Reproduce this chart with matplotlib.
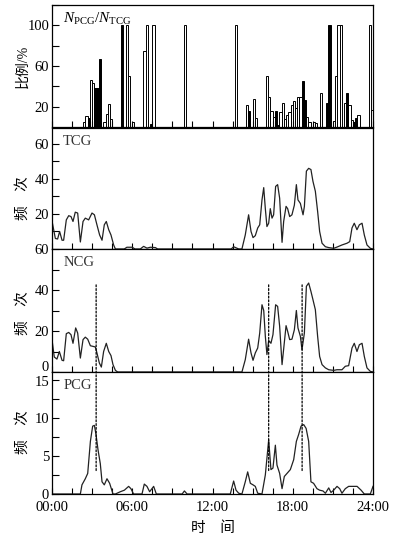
import numpy as np
import matplotlib
matplotlib.use('Agg')
import matplotlib.pyplot as plt
import matplotlib.transforms as mtransforms
from matplotlib.patches import ConnectionPatch

plt.rcParams['font.family'] = ['Liberation Serif', 'Noto Sans CJK SC']
plt.rcParams['mathtext.fontset'] = 'custom'
plt.rcParams['mathtext.rm'] = 'Liberation Serif'
plt.rcParams['mathtext.it'] = 'Liberation Serif:italic'

# ratio N_PCG/N_TCG per 10-min bin (bin index, percent)
open_bins = [14, 15, 17, 18, 23, 24, 25, 26, 33, 34, 36, 41, 42, 45, 59, 82,
             87, 90, 91, 96, 97, 98, 99, 102, 103, 104, 105, 106, 107, 108, 109,
             110, 111, 114, 115, 117, 118, 120, 126, 127, 128, 129, 131, 133,
             134, 137, 142, 143]
open_vals = [5, 11, 46, 43.5, 5, 12.7, 22.5, 8, 100, 50, 5, 75, 100, 100, 100, 100,
             21.5, 28, 8.5, 50, 30, 16, 10, 15, 24, 8, 12, 15, 21.5, 26, 19,
             30, 30, 10, 5, 5, 3.5, 33, 6, 50, 100, 100, 24, 21.5,
             6.5, 12, 100, 17]
fill_bins = [16, 19, 20, 21, 31, 44, 88, 100, 101, 112, 113, 123, 124, 132, 135, 136]
fill_vals = [9, 38.5, 38.5, 67, 100, 3, 16, 16, 2, 45, 27, 24, 100, 33, 4.5, 8.5]

# TCG counts (hours, count)
t_tcg = [0, 0.25, 0.42, 0.57, 0.75, 0.87, 1.07, 1.25, 1.42, 1.57, 1.74, 1.92, 2.12,
         2.32, 2.49, 2.74, 2.99, 3.17, 3.36, 3.56, 3.74, 3.91, 4.06, 4.24, 4.41,
         4.61, 4.74, 5.4, 5.6, 6.0, 6.2, 6.6, 6.85, 7.1, 7.35, 7.73, 7.9, 13.4,
         13.58, 13.96, 14.2, 14.45, 14.7, 14.88, 15.03, 15.2, 15.38, 15.53, 15.7,
         15.83, 15.95, 16.07, 16.2, 16.32, 16.45, 16.57, 16.72, 16.87, 17.02, 17.2,
         17.32, 17.5, 17.62, 17.77, 17.94, 18.12, 18.27, 18.39, 18.57, 18.77,
         18.87, 19.02, 19.19, 19.36, 19.51, 19.69, 19.86, 20.01, 20.19, 20.44,
         20.69, 21.06, 21.31, 21.68, 22.06, 22.26, 22.43, 22.6, 22.8, 22.98,
         23.18, 23.35, 23.55, 23.8, 24]
v_tcg = [16, 6, 5.7, 10, 5, 5, 16.6, 19, 18.5, 15.7, 21, 20.5, 4,
         15.7, 17.6, 16.6, 20.5, 19.5, 13.8, 8, 5, 13.8, 15.7, 11, 8,
         2.3, 0, 0, 1, 1, 0, 0, 1.5, 0.5, 1, 0.8, 0, 0,
         1.3, 0, 0, 8, 19.5, 10, 6.5, 7.6, 12, 13.8, 28,
         35, 23, 12.8, 14.7, 23, 17.6, 19.5, 35.7, 36.7, 29, 3.8,
         15.7, 24.3, 23, 18.5, 19.5, 25, 36.7, 28, 26, 19.5,
         24.3, 44.4, 46, 45.3, 38.6, 32.9, 21.4, 10, 3.3, 1.3,
         0.8, 0.4, 1.1, 2.3, 3.3, 4.2, 12, 14.7, 11, 13.8,
         14.7, 8, 2.3, 0.4, 0]

# NCG counts
t_ncg = [0, 0.17, 0.37, 0.55, 0.75, 0.87, 1.07, 1.25, 1.42, 1.57, 1.77, 1.92, 2.12,
         2.32, 2.49, 2.67, 2.87, 3.07, 3.24, 3.36, 3.54, 3.69, 3.86, 4.06, 4.24,
         4.41, 4.56, 4.74, 4.91, 13.96, 14.2, 14.45, 14.7, 14.88, 15.03, 15.2,
         15.38, 15.53, 15.7, 15.83, 15.95, 16.07, 16.2, 16.37, 16.52, 16.72, 16.87,
         17.02, 17.2, 17.32, 17.5, 17.62, 17.77, 17.94, 18.12, 18.27, 18.39, 18.57,
         18.69, 18.87, 19.02, 19.19, 19.36, 19.51, 19.69, 19.86, 20.01, 20.19,
         20.44, 20.69, 21.06, 21.31, 21.68, 21.93, 22.18, 22.43, 22.6, 22.8, 22.98,
         23.18, 23.35, 23.55, 23.8, 24]
v_ncg = [15.8, 7.3, 6.3, 10, 5.7, 5.5, 18.7, 19.3, 18.2, 14, 21.5, 19, 6.8,
         15.8, 17, 16, 12.8, 12.5, 12.2, 9.3, 4.4, 2.4, 10, 14, 10,
         8, 3.6, 0.8, 0, 0, 0, 6, 16, 9.3, 5.7, 9.3,
         11.7, 19, 32.8, 30, 17.4, 8.5, 15.4, 14, 18.2, 32.8, 32,
         22.3, 3.6, 11.2, 22.6, 19.8, 15.8, 16, 20.6, 30, 21.5, 17.4,
         10.9, 19, 41.8, 43.4, 39.3, 35.3, 30.4, 17.4, 7.6, 3.6,
         2, 1.1, 0.8, 1.1, 1.1, 2.8, 3.1, 11.7, 14, 10, 13.3,
         14, 7.6, 2, 0.3, 0]

# PCG counts
t_pcg = [0, 2.12, 2.24, 2.49, 2.67, 2.87, 3.04, 3.17, 3.29, 3.44, 3.61, 3.74, 3.91,
         4.11, 4.31, 4.56, 4.74, 5.11, 5.41, 5.73, 5.9, 6.1, 6.73, 6.9, 7.1, 7.3,
         7.6, 7.8, 9.73, 9.9, 10.1, 13.33, 13.58, 13.76, 13.96, 14.2, 14.45, 14.63,
         14.83, 15.03, 15.2, 15.38, 15.7, 15.95, 16.2, 16.37, 16.52, 16.7, 16.82,
         17.02, 17.2, 17.37, 17.57, 17.82, 18.07, 18.27, 18.44, 18.62, 18.82, 19.0,
         19.19, 19.36, 19.56, 19.81, 20.01, 20.26, 20.44, 20.69, 20.86, 21.06,
         21.31, 21.51, 21.68, 21.93, 22.18, 22.56, 22.81, 23.11, 23.35, 23.8, 24]
v_pcg = [0, 0, 1.2, 2, 2.7, 6.9, 8.9, 9, 7.8, 5.8, 4, 1.6, 1.2,
         2, 1.4, 0, 0, 0.3, 0.5, 1, 0.7, 0, 0, 1.3, 1, 0.3,
         1, 0, 0, 0.4, 0, 0, 1.7, 0.5, 0.1, 0, 1.6, 2.9,
         1.4, 1.2, 1, 0.1, 0, 2.5, 7.1, 3.2, 3.4, 6.4, 3.8,
         2.7, 0.7, 2.3, 2.7, 3.2, 4.5, 6.9, 7.8, 8.9, 9.1, 8.6,
         6.9, 1.6, 1.4, 0.7, 0.5, 0.4, 0.1, 0.8, 0.2, 0.5,
         1, 0.7, 0.1, 0.7, 1, 1, 1, 0.5, 0, 0, 1]

# PCG peak times marked with dotted lines
peak_times = [3.3, 16.2, 18.7]

fig = plt.figure(figsize=(3.99, 5.41), dpi=100)
left, width = 52 / 399, 321 / 399
ax1 = fig.add_axes([left, 1 - 127 / 541, width, 122 / 541])
ax2 = fig.add_axes([left, 1 - 249 / 541, width, 121 / 541])
ax3 = fig.add_axes([left, 1 - 372 / 541, width, 123 / 541])
ax4 = fig.add_axes([left, 1 - 494 / 541, width, 122 / 541])

bw = 1 / 6
ax1.bar(np.array(open_bins) * bw, open_vals, width=bw, align='edge',
        facecolor='white', edgecolor='black', linewidth=0.7)
ax1.bar(np.array(fill_bins) * bw, fill_vals, width=bw, align='edge',
        facecolor='black', edgecolor='black', linewidth=0.7)
ax1.set_ylim(0, 120)
ax1.set_yticks(np.arange(20, 121, 20))
ax1.set_yticklabels(['20', '', '60', '', '100', ''])
ax1.text(0.035, 0.95, r'$N_{\rm PCG}/N_{\rm TCG}$', transform=ax1.transAxes,
         fontsize=11, va='top', ha='left')

lc = '#222222'
ax2.plot(t_tcg, v_tcg, color=lc, lw=0.9)
ax2.set_ylim(0, 69)
ax2.set_yticks(np.arange(10, 61, 10))
ax2.set_yticklabels(['', '20', '', '40', '', '60'])

ax3.plot(t_ncg, v_ncg, color=lc, lw=0.9)
ax3.set_ylim(0, 60)
ax3.set_yticks(np.arange(0, 61, 10))
ax3.set_yticklabels(['0', '', '20', '', '40', '', '60'])

ax4.plot(t_pcg, v_pcg, color=lc, lw=0.9)
ax4.set_ylim(0, 16)
ax4.set_yticks(np.arange(0, 15.1, 2.5))
ax4.set_yticklabels(['0', '', '5', '', '10', '', '15'])

for ax, name in [(ax2, 'TCG'), (ax3, 'NCG'), (ax4, 'PCG')]:
    ax.text(0.035, 0.94, name, transform=ax.transAxes, fontsize=10.5,
            va='top', ha='left', color='#333333')

xt = np.arange(0, 24.1, 1.5)
for ax in [ax1, ax2, ax3, ax4]:
    ax.set_xlim(0, 24)
    ax.set_xticks(xt)
    ax.set_xticklabels([])
    ax.tick_params(axis='x', direction='in', length=4, width=0.8, labelsize=10.5, pad=5)
    ax.tick_params(axis='y', direction='in', length=5, width=0.8, labelsize=10.5, pad=2)
    for s in ax.spines.values():
        s.set_linewidth(0.9)
ax4.set_xticklabels([f'{int(h):02d}:00' if h % 6 == 0 else '' for h in xt])

# the NCG "0" sits a little higher in the original so it clears the PCG "15"
zero_lab = ax3.get_yticklabels()[0]
zero_lab.set_transform(zero_lab.get_transform() +
                       mtransforms.ScaledTranslation(0, 4 / 72, fig.dpi_scale_trans))
fifteen_lab = ax4.get_yticklabels()[-1]
fifteen_lab.set_transform(fifteen_lab.get_transform() +
                          mtransforms.ScaledTranslation(0, -1 / 72, fig.dpi_scale_trans))

for t in peak_times:
    con = ConnectionPatch(xyA=(t, 42.5), coordsA=ax3.transData,
                          xyB=(t, 3.0), coordsB=ax4.transData,
                          linestyle=(0, (1.5, 1.5)), color='black', lw=0.9)
    fig.add_artist(con)

fig.text(23 / 399, 1 - 66 / 541, '比例/%', rotation=90, ha='center', va='center',
         fontsize=10)
for yc in [198, 313, 432]:
    fig.text(23 / 399, 1 - yc / 541, '频\u3000次', rotation=90, ha='center',
             va='center', fontsize=10.5)
fig.text(213 / 399, 1 - 528 / 541, '时\u3000间', ha='center', va='center', fontsize=10.5)

fig.savefig('out.png', dpi=100)
